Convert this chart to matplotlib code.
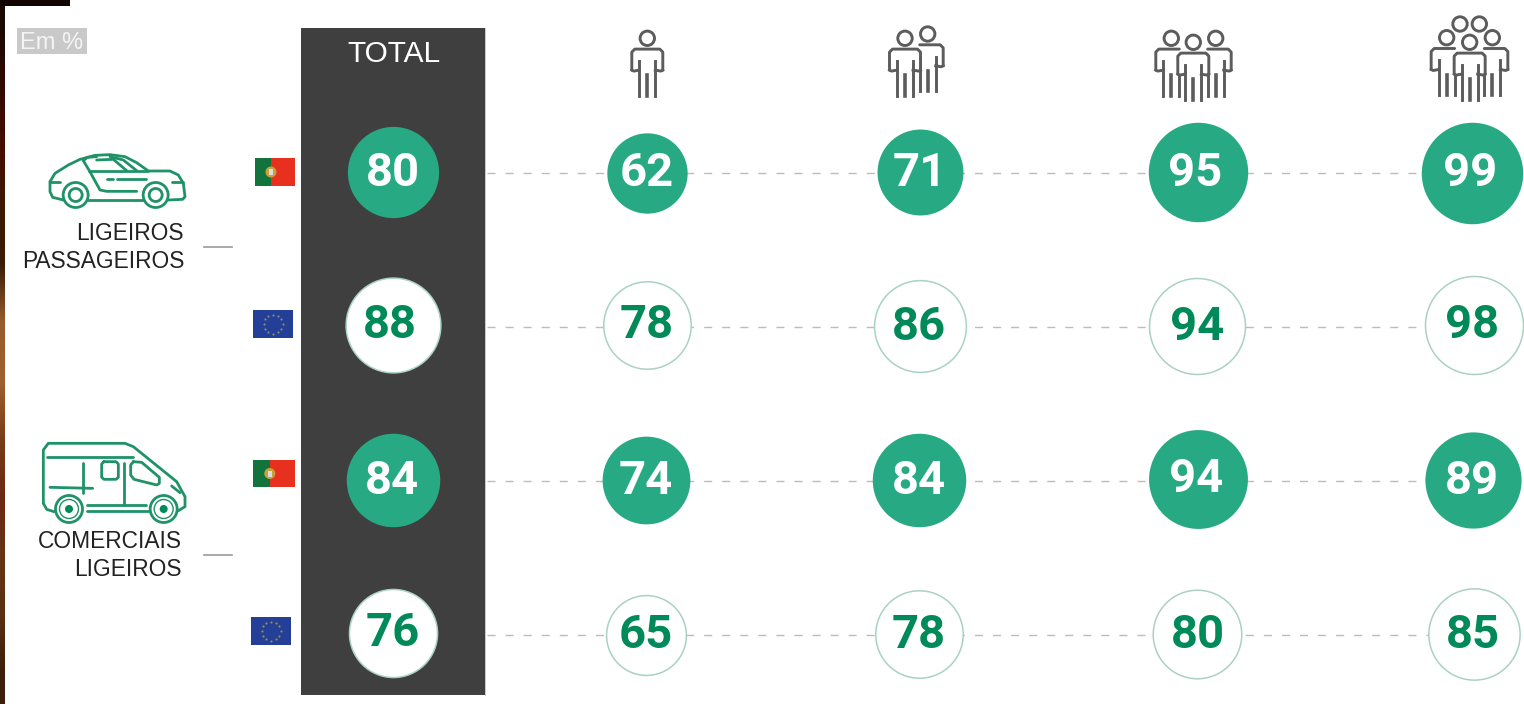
import numpy as np
import matplotlib
matplotlib.use("Agg")
import matplotlib.pyplot as plt
import matplotlib.patheffects as pe
from matplotlib.patches import Rectangle, Circle

rows = ["Ligeiros PT", "Ligeiros UE", "Comerciais PT", "Comerciais UE"]
columns = ["Total", "1", "2", "3", "4+"]
ligeiros_pt = [80, 62, 71, 95, 99]
ligeiros_ue = [88, 78, 86, 94, 98]
comerciais_pt = [84, 74, 84, 94, 89]
comerciais_ue = [76, 65, 78, 80, 85]
series = [ligeiros_pt, ligeiros_ue, comerciais_pt, comerciais_ue]
portugal_row = [True, False, True, False]

col_x = [[393.2, 646.7, 919.5, 1197.5, 1472],
         [393.2, 646.7, 919.5, 1197, 1474],
         [393, 646, 919, 1198, 1473],
         [393, 646, 919, 1197, 1474]]
row_y = [[172, 173, 172, 172, 173],
         [325, 325, 326, 326, 325],
         [480, 480, 480, 479, 480],
         [633, 635, 634, 634, 634]]
text_dx = [[0, 0, 0, -2, -2], [-3, 0, -1, 0, -2], [-1, 0, 0, -2, -1], [0, 0, 0, 1, -1]]
line_y = [173, 327, 481, 635]

GREEN = "#27aa83"
DARKG = "#008a5a"
RING = "#a9d2c3"
ICONG = "#1f9268"
GREY = "#5c5c5c"
FONT = "Roboto"

fig = plt.figure(figsize=(15.24, 7.04), dpi=100)
ax = fig.add_axes([0, 0, 1, 1])
ax.set_xlim(0, 1524)
ax.set_ylim(704, 0)
ax.axis("off")

# photographic scraps at the edge
strip = np.array([[[26, 8, 2]], [[50, 10, 2]], [[70, 14, 2]], [[62, 24, 4]], [[58, 28, 6]],
                  [[150, 92, 46]], [[160, 96, 48]], [[120, 60, 24]], [[110, 40, 20]],
                  [[100, 54, 20]], [[90, 48, 18]], [[60, 30, 10]]], dtype=np.uint8)
ax.imshow(strip, extent=(0, 5, 704, 0), aspect="auto", zorder=1, interpolation="bilinear")
ax.add_patch(Rectangle((0, 0), 70, 6, fc="#120400", ec="none", zorder=1))
ax.set_xlim(0, 1524)
ax.set_ylim(704, 0)

# dark total panel
ax.add_patch(Rectangle((301, 28), 184, 667, fc="#3f3f3f", ec="none", zorder=2))
ax.plot([485.3, 485.3], [28, 695], color="#c0c0c0", lw=0.6, zorder=2)
ax.text(393.5, 54, "TOTAL", color="white", fontsize=21.5, family="Liberation Sans",
        ha="center", va="center", zorder=5)

# unit tag
ax.add_patch(Rectangle((17, 28), 70, 26, fc="#c9c9c9", ec="none", zorder=2))
ax.text(52, 43, "Em %", color="#f4f4f4", fontsize=17, family="Liberation Sans",
        ha="center", va="center", zorder=5)

# dashed connectors
for y in line_y:
    ax.plot([487, 1432], [y, y], color="#bcbcbc", lw=1.0, dashes=(5.8, 7.2), zorder=2.5)

# bubbles
for i, vals in enumerate(series):
    filled = portugal_row[i]
    for j, v in enumerate(vals):
        k = 5.1 if filled else (5.05 if j == 0 else 4.95)
        r = k * np.sqrt(v)
        size = (2 * r * 0.72) ** 2
        ax.scatter([col_x[i][j]], [row_y[i][j]], s=size,
                   c=GREEN if filled else "white",
                   edgecolors=GREEN if filled else RING,
                   linewidths=0 if filled else 1.1, zorder=3)
        col = "white" if filled else DARKG
        ax.text(col_x[i][j] + text_dx[i][j], row_y[i][j] + 0.5, str(v),
                color=col, fontsize=34, fontweight="bold",
                family=FONT, ha="center", va="center", zorder=4)

# row labels
for y, s in [(234, "LIGEIROS"), (262, "PASSAGEIROS")]:
    ax.text(184, y, s, color="#222222", fontsize=16.4, family="Liberation Sans", ha="right", va="center")
for y, s in [(542, "COMERCIAIS"), (570, "LIGEIROS")]:
    ax.text(182, y, s, color="#222222", fontsize=16.4, family="Liberation Sans", ha="right", va="center")
for y in (247, 555):
    ax.plot([204, 232], [y, y], color="#999999", lw=1.2, zorder=2)


def flag_pt(x, y, w, h):
    split = x + w * 0.4
    ax.add_patch(Rectangle((x, y), split - x, h, fc="#12743c", ec="none", zorder=3))
    ax.add_patch(Rectangle((split, y), x + w - split, h, fc="#e8301f", ec="none", zorder=3))
    ax.add_patch(Circle((split, y + h / 2), 5.5, fc="#c9a13a", ec="none", zorder=3.1))
    ax.add_patch(Rectangle((split - 2.2, y + h / 2 - 3), 4.4, 6, fc="#dcdce4", ec="none", zorder=3.2))


def flag_eu(x, y, w, h):
    ax.add_patch(Rectangle((x, y), w, h, fc="#233f97", ec="none", zorder=3))
    t = np.arange(12) * 2 * np.pi / 12
    ax.scatter(x + w / 2 + 9.5 * np.cos(t), y + h / 2 + 9.5 * np.sin(t), s=2.4,
               c="#8f8f6a", linewidths=0, zorder=3.1)


flag_pt(255, 158, 40, 28)
flag_eu(253, 310, 40, 28)
flag_pt(253, 460, 42, 27)
flag_eu(251, 617, 40, 28)


def line(pts, ox, oy, color, lw=2.0, z=3):
    pts = np.array(pts, dtype=float)
    ax.plot(ox + pts[:, 0] / 3, oy + pts[:, 1] / 3, color=color, lw=lw, zorder=z,
            solid_capstyle="round", solid_joinstyle="round")


def ring(cx, cy, r, color, lw=2.0, fc="white", z=3):
    ax.add_patch(Circle((cx, cy), r, fc=fc, ec=color, lw=lw, zorder=z))


# car icon
C = ICONG
line([(150, 545), (165, 520), (205, 495), (240, 478), (285, 466), (330, 464), (375, 470), (410, 488),
      (445, 513), (510, 513), (535, 525), (550, 550), (555, 590), (548, 598), (505, 600)], 0, 0, C)
line([(150, 545), (150, 575), (158, 592), (190, 600)], 0, 0, C)
line([(262, 600), (430, 600)], 0, 0, C)
line([(250, 482), (268, 512), (300, 570), (320, 574), (410, 574)], 0, 0, C)
line([(250, 482), (262, 472), (290, 470)], 0, 0, C)
line([(268, 513), (445, 513)], 0, 0, C)
line([(290, 480), (340, 478), (380, 512)], 0, 0, C)
line([(330, 470), (370, 480), (410, 512)], 0, 0, C)
line([(320, 537), (340, 537)], 0, 0, C)
line([(352, 537), (438, 537)], 0, 0, C)
line([(150, 545), (180, 545)], 0, 0, C)
line([(515, 545), (550, 545)], 0, 0, C)
for wx in (227, 467):
    ring(wx / 3, 585 / 3, 12.5, C)
    ring(wx / 3, 585 / 3, 6.5, C)

# van icon
line([(130, 310), (130, 150), (145, 130), (375, 130), (400, 140), (530, 245), (555, 290), (555, 320),
      (535, 332)], 0, 400, C)
line([(130, 310), (140, 328), (162, 335)], 0, 400, C)
line([(262, 332), (450, 332)], 0, 400, C)
line([(262, 315), (437, 315)], 0, 400, C)
line([(140, 172), (398, 172)], 0, 400, C)
line([(248, 190), (248, 280)], 0, 400, C)
line([(150, 262), (278, 265)], 0, 400, C)
line([(372, 190), (372, 315)], 0, 400, C)
line([(312, 185), (348, 185), (355, 192), (355, 232), (348, 238), (312, 238), (305, 232), (305, 192),
      (312, 185)], 0, 400, C)
line([(400, 185), (425, 187), (478, 232), (478, 250), (470, 255), (402, 238), (392, 225), (392, 195),
      (400, 185)], 0, 400, C)
line([(515, 258), (540, 278)], 0, 400, C)
for wx in (207, 491):
    ring(wx / 3, 400 + 327 / 3, 13.5, C)
    ring(wx / 3, 400 + 327 / 3, 9.5, C, lw=1.0)
    ring(wx / 3, 400 + 327 / 3, 4, C, lw=0, fc=DARKG)


# people icons
PLW = 2.1


def person(cx, hy, left=True, right=True, z=3.0):
    """Pictogram of one person; cx and head-centre hy are in pixels."""
    ring(cx, hy, 7.2, GREY, lw=PLW, fc="white", z=z)
    top = hy + 10.8
    lo = cx - 15.5
    hi = cx + 15.5
    if left and right:
        xs = [lo, hi]
    elif left:
        xs = [lo, cx + 8]
    else:
        xs = [cx - 8, hi]
    ax.add_patch(Rectangle((xs[0], top), xs[1] - xs[0], 22, fc="white", ec="none", zorder=z))
    pts = []
    if left:
        pts += [(lo, top + 21), (lo, top + 3), (lo + 3, top)]
    else:
        pts += [(xs[0], top)]
    if right:
        pts += [(hi - 3, top), (hi, top + 3), (hi, top + 21)]
    else:
        pts += [(xs[1], top)]
    p = np.array(pts)
    ax.plot(p[:, 0], p[:, 1], color=GREY, lw=PLW, zorder=z + 0.1,
            solid_capstyle="round", solid_joinstyle="round")
    if left:
        ax.plot([lo, lo + 2, cx - 8], [top + 21, top + 22, top + 21], color=GREY, lw=PLW, zorder=z + 0.1)
    if right:
        ax.plot([hi, hi - 2, cx + 8], [top + 21, top + 22, top + 21], color=GREY, lw=PLW, zorder=z + 0.1)
    bot = hy + 57.3
    ax.plot([cx - 8, cx - 8], [hy + 22.5, bot], color=GREY, lw=PLW, zorder=z + 0.1)
    ax.plot([cx + 8, cx + 8], [hy + 22.5, bot], color=GREY, lw=PLW, zorder=z + 0.1)
    ax.plot([cx, cx], [hy + 37, bot], color=GREY, lw=2.6, zorder=z + 0.1)


person(647.3, 38.3)
person(927.7, 34, left=False, z=3.0)
person(905, 38.3, z=3.3)
person(1171.3, 38.3, right=False, z=3.0)
person(1215.7, 38.3, left=False, z=3.0)
person(1193.3, 42.3, z=3.3)
ring(1124 + 1008 / 3, 24, 7.2, GREY, lw=PLW)
ring(1124 + 1066 / 3, 24, 7.2, GREY, lw=PLW)
person(1124 + 968 / 3, 37.7, right=False, z=3.0)
person(1124 + 1105 / 3, 37.7, left=False, z=3.0)
person(1124 + 1037 / 3, 42.3, z=3.3)

fig.savefig("out.png", dpi=100, facecolor="white")
